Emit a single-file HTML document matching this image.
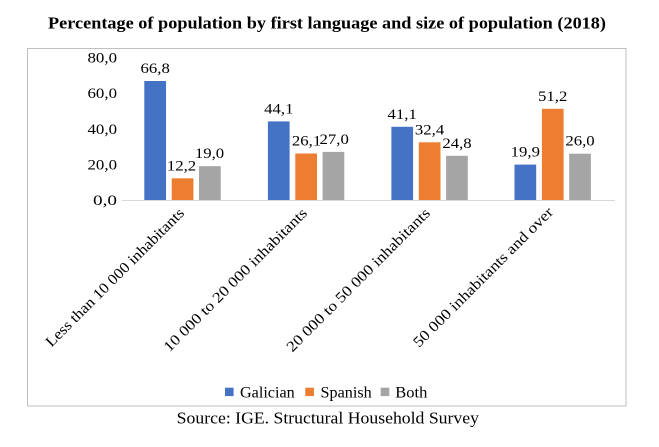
<!DOCTYPE html>
<html>
<head>
<meta charset="utf-8">
<style>
  html, body { margin: 0; padding: 0; background: #ffffff; }
  svg { display: block; }
  text { font-family: "Liberation Serif", serif; fill: #000; }
</style>
</head>
<body>
<svg width="659" height="447" viewBox="0 0 659 447" xmlns="http://www.w3.org/2000/svg">
  <rect x="0" y="0" width="659" height="447" fill="#ffffff"/>
  <!-- Title -->
  <text x="48" y="28.5" font-size="17" font-weight="bold" textLength="558" lengthAdjust="spacingAndGlyphs">Percentage of population by first language and size of population (2018)</text>

  <!-- Chart frame -->
  <rect x="27.5" y="48.5" width="598.5" height="357.5" fill="none" stroke="#bfbfbf" stroke-width="1"/>

  <!-- Y axis labels -->
  <g font-size="15" text-anchor="end">
    <text x="117" y="62.5" textLength="29.5" lengthAdjust="spacingAndGlyphs">80,0</text>
    <text x="117" y="98.2" textLength="29.5" lengthAdjust="spacingAndGlyphs">60,0</text>
    <text x="117" y="133.8" textLength="29.5" lengthAdjust="spacingAndGlyphs">40,0</text>
    <text x="117" y="169.4" textLength="29.5" lengthAdjust="spacingAndGlyphs">20,0</text>
    <text x="117" y="205" textLength="24" lengthAdjust="spacingAndGlyphs">0,0</text>
  </g>

  <!-- Bars -->
  <g>
    <!-- Group 1 -->
    <rect x="144.3" y="81.0" width="21.7" height="119.0" fill="#4472C4"/>
    <rect x="171.7" y="178.3" width="21.7" height="21.7" fill="#ED7D31"/>
    <rect x="199.0" y="166.2" width="21.7" height="33.8" fill="#A5A5A5"/>
    <!-- Group 2 -->
    <rect x="267.9" y="121.4" width="21.7" height="78.6" fill="#4472C4"/>
    <rect x="295.3" y="153.5" width="21.7" height="46.5" fill="#ED7D31"/>
    <rect x="322.6" y="151.9" width="21.7" height="48.1" fill="#A5A5A5"/>
    <!-- Group 3 -->
    <rect x="391.4" y="126.8" width="21.7" height="73.2" fill="#4472C4"/>
    <rect x="418.8" y="142.3" width="21.7" height="57.7" fill="#ED7D31"/>
    <rect x="446.1" y="155.8" width="21.7" height="44.2" fill="#A5A5A5"/>
    <!-- Group 4 -->
    <rect x="514.5" y="164.6" width="21.7" height="35.4" fill="#4472C4"/>
    <rect x="541.9" y="108.8" width="21.7" height="91.2" fill="#ED7D31"/>
    <rect x="569.2" y="153.7" width="21.7" height="46.3" fill="#A5A5A5"/>
  </g>

  <!-- Axis line -->
  <line x1="122" y1="200.5" x2="615" y2="200.5" stroke="#d9d9d9" stroke-width="1"/>

  <!-- Data labels -->
  <g font-size="15" text-anchor="middle">
    <text x="155.2" y="73.0" textLength="29.3" lengthAdjust="spacingAndGlyphs">66,8</text>
    <text x="181.5" y="170.3" textLength="29.3" lengthAdjust="spacingAndGlyphs">12,2</text>
    <text x="209.5" y="158.2" textLength="29.3" lengthAdjust="spacingAndGlyphs">19,0</text>

    <text x="278.8" y="113.4" textLength="29.3" lengthAdjust="spacingAndGlyphs">44,1</text>
    <text x="306.6" y="145.5" textLength="29.3" lengthAdjust="spacingAndGlyphs">26,1</text>
    <text x="334.2" y="143.9" textLength="29.3" lengthAdjust="spacingAndGlyphs">27,0</text>

    <text x="402.2" y="118.8" textLength="29.3" lengthAdjust="spacingAndGlyphs">41,1</text>
    <text x="429.6" y="134.3" textLength="29.3" lengthAdjust="spacingAndGlyphs">32,4</text>
    <text x="457.0" y="147.8" textLength="29.3" lengthAdjust="spacingAndGlyphs">24,8</text>

    <text x="525.3" y="156.6" textLength="29.3" lengthAdjust="spacingAndGlyphs">19,9</text>
    <text x="552.7" y="100.8" textLength="29.3" lengthAdjust="spacingAndGlyphs">51,2</text>
    <text x="580.0" y="145.7" textLength="29.3" lengthAdjust="spacingAndGlyphs">26,0</text>
  </g>

  <!-- Category labels (rotated -45) -->
  <g font-size="15" text-anchor="end">
    <text transform="translate(185,214) rotate(-45)" textLength="189" lengthAdjust="spacingAndGlyphs">Less than 10 000 inhabitants</text>
    <text transform="translate(308,214) rotate(-45)" textLength="196" lengthAdjust="spacingAndGlyphs">10 000 to 20 000 inhabitants</text>
    <text transform="translate(431,214) rotate(-45)" textLength="196" lengthAdjust="spacingAndGlyphs">20 000 to 50 000 inhabitants</text>
    <text transform="translate(554,213) rotate(-45)" textLength="191" lengthAdjust="spacingAndGlyphs">50 000 inhabitants and over</text>
  </g>

  <!-- Legend -->
  <rect x="225" y="387.7" width="8.6" height="8.4" fill="#4472C4"/>
  <text x="240" y="397.5" font-size="16" textLength="54.7" lengthAdjust="spacingAndGlyphs">Galician</text>
  <rect x="305.3" y="387.7" width="8.6" height="8.4" fill="#ED7D31"/>
  <text x="320.5" y="397.5" font-size="16" textLength="51.2" lengthAdjust="spacingAndGlyphs">Spanish</text>
  <rect x="380.7" y="387.7" width="8.6" height="8.4" fill="#A5A5A5"/>
  <text x="395.3" y="397.5" font-size="16" textLength="32" lengthAdjust="spacingAndGlyphs">Both</text>

  <!-- Source -->
  <text x="176.7" y="423.3" font-size="17" textLength="302.3" lengthAdjust="spacingAndGlyphs">Source: IGE. Structural Household Survey</text>
</svg>
</body>
</html>
